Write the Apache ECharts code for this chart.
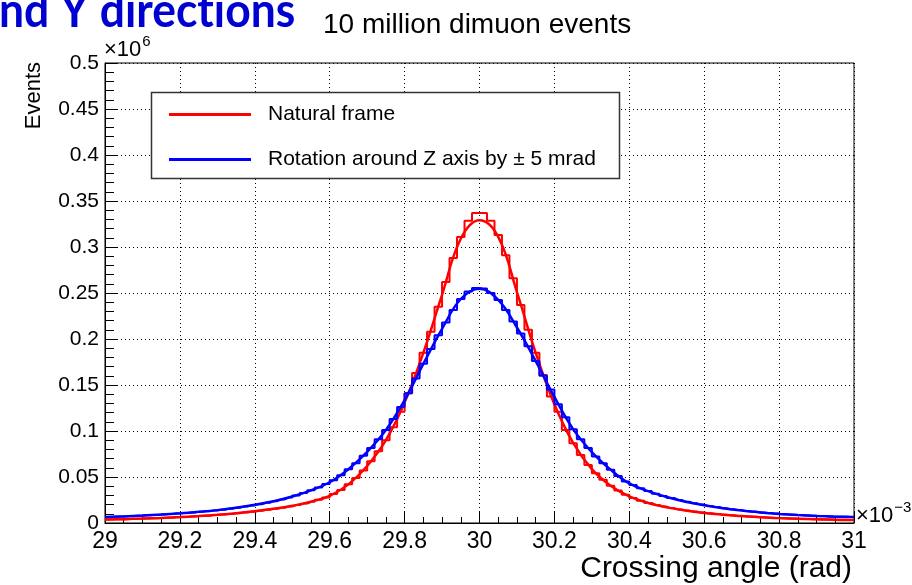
<!DOCTYPE html>
<html>
<head>
<meta charset="utf-8">
<script src="https://cdn.jsdelivr.net/npm/echarts@6/dist/echarts.min.js"></script>
<style>
  html, body { margin: 0; padding: 0; background: #ffffff; }
  #chart { width: 912px; height: 585px; }
</style>
</head>
<body>
<div id="chart"></div>
<script>
// Histogram binning: 100 bins of 0.02 (x 1e-3 rad) from 29.0 to 31.0
const binLow = 29.0;
const binWidth = 0.02;

// Events per bin (x 1e6), natural frame
const naturalCounts = [
  0.0038, 0.0040, 0.0042, 0.0044, 0.0046, 0.0049, 0.0052, 0.0055, 0.0058, 0.0062,
  0.0066, 0.0070, 0.0075, 0.0080, 0.0086, 0.0092, 0.0099, 0.0106, 0.0114, 0.0123,
  0.0133, 0.0143, 0.0154, 0.0166, 0.0180, 0.0195, 0.0212, 0.0231, 0.0253, 0.0278,
  0.0315, 0.0360, 0.0420, 0.0490, 0.0570, 0.0670, 0.0780, 0.0900, 0.1040, 0.1210,
  0.1410, 0.1630, 0.1850, 0.2080, 0.2350, 0.2620, 0.2880, 0.3110, 0.3286, 0.3370,
  0.3370, 0.3286, 0.3130, 0.2910, 0.2660, 0.2370, 0.2100, 0.1850, 0.1610, 0.1375,
  0.1210, 0.1010, 0.0868, 0.0740, 0.0630, 0.0540, 0.0470, 0.0405, 0.0354, 0.0307,
  0.0272, 0.0243, 0.0218, 0.0197, 0.0178, 0.0162, 0.0148, 0.0135, 0.0124, 0.0114,
  0.0105, 0.0097, 0.0090, 0.0083, 0.0077, 0.0072, 0.0067, 0.0062, 0.0058, 0.0054,
  0.0051, 0.0048, 0.0045, 0.0043, 0.0041, 0.0039, 0.0037, 0.0035, 0.0034, 0.0033
];

// Events per bin (x 1e6), rotation around Z by +-5 mrad
const rotatedCounts = [
  0.0066, 0.0069, 0.0072, 0.0075, 0.0079, 0.0083, 0.0087, 0.0092, 0.0097, 0.0102,
  0.0108, 0.0114, 0.0121, 0.0128, 0.0136, 0.0145, 0.0155, 0.0166, 0.0178, 0.0191,
  0.0205, 0.0220, 0.0237, 0.0256, 0.0277, 0.0300, 0.0326, 0.0355, 0.0387, 0.0423,
  0.0465, 0.0520, 0.0585, 0.0650, 0.0730, 0.0814, 0.0910, 0.1010, 0.1130, 0.1260,
  0.1410, 0.1570, 0.1730, 0.1890, 0.2040, 0.2180, 0.2316, 0.2435, 0.2515, 0.2555,
  0.2550, 0.2500, 0.2425, 0.2316, 0.2190, 0.2060, 0.1920, 0.1760, 0.1600, 0.1450,
  0.1290, 0.1150, 0.1020, 0.0910, 0.0814, 0.0723, 0.0650, 0.0580, 0.0510, 0.0450,
  0.0412, 0.0378, 0.0347, 0.0319, 0.0294, 0.0272, 0.0251, 0.0232, 0.0215, 0.0200,
  0.0186, 0.0173, 0.0161, 0.0150, 0.0140, 0.0131, 0.0123, 0.0115, 0.0108, 0.0102,
  0.0096, 0.0091, 0.0086, 0.0082, 0.0078, 0.0075, 0.0072, 0.0069, 0.0067, 0.0065
];

// Fitted curves sampled every 0.05 from 29.00 to 31.00
const fitStep = 0.05;
const naturalFit = [
  0.0037, 0.0042, 0.0048, 0.0055, 0.0064, 0.0075, 0.0089, 0.0106, 0.0128, 0.0154,
  0.0187, 0.0231, 0.0296, 0.0420, 0.0620, 0.0900, 0.1310, 0.1850, 0.2480, 0.3090,
  0.3290,
  0.3110, 0.2510, 0.1850, 0.1290, 0.0870, 0.0585, 0.0405, 0.0289, 0.0218, 0.0170,
  0.0135, 0.0109, 0.0090, 0.0075, 0.0062, 0.0053, 0.0045, 0.0040, 0.0035, 0.0032
];
const rotatedFit = [
  0.0064, 0.0072, 0.0081, 0.0092, 0.0105, 0.0121, 0.0140, 0.0166, 0.0198, 0.0237,
  0.0288, 0.0355, 0.0443, 0.0585, 0.0772, 0.1010, 0.1335, 0.1730, 0.2110, 0.2435,
  0.2545,
  0.2425, 0.2125, 0.1760, 0.1370, 0.1020, 0.0770, 0.0580, 0.0430, 0.0347, 0.0283,
  0.0232, 0.0193, 0.0161, 0.0135, 0.0115, 0.0099, 0.0086, 0.0076, 0.0069, 0.0064
];

const seriesNames = ['Natural frame', 'Rotation around Z axis by \u00b1 5 mrad'];
const xTickLabels = ['29', '29.2', '29.4', '29.6', '29.8', '30', '30.2', '30.4', '30.6', '30.8', '31'];
const yTickLabels = ['0', '0.05', '0.1', '0.15', '0.2', '0.25', '0.3', '0.35', '0.4', '0.45', '0.5'];

const xMin = 29, xMax = 31, xInterval = 0.2;
const yMin = 0, yMax = 0.5, yInterval = 0.05;

// Step outline: one point per bin centre plus the two outer edges
function histPoints(counts) {
  const pts = [[binLow, counts[0]]];
  counts.forEach((c, i) => pts.push([binLow + (i + 0.5) * binWidth, c]));
  pts.push([binLow + counts.length * binWidth, counts[counts.length - 1]]);
  return pts;
}
function fitPoints(vals) {
  return vals.map((v, i) => [binLow + i * fitStep, v]);
}

const FONT = '"Liberation Sans", Arial, Helvetica, sans-serif';
const RED = '#ff0000';
const BLUE = '#0000ff';

const chart = echarts.init(document.getElementById('chart'), null, { renderer: 'canvas' });

const axisCommon = {
  axisLine: { show: true, onZero: false, lineStyle: { color: '#000', width: 1 } },
  axisTick: { show: true, inside: true, length: 12, lineStyle: { color: '#000', width: 1 } },
  splitLine: { show: true, lineStyle: { color: '#000', width: 1, type: [1, 3] } }
};

const powerRich = {
  a: { fontFamily: FONT, fontSize: 22, verticalAlign: 'bottom' },
  b: { fontFamily: FONT, fontSize: 15, verticalAlign: 'top', padding: [0, 0, 12, 1] }
};

chart.setOption({
  animation: false,
  backgroundColor: '#ffffff',
  grid: {
    left: 105, right: 58, top: 63, bottom: 62,
    show: true, borderColor: '#000', borderWidth: 1, backgroundColor: 'transparent'
  },
  xAxis: Object.assign({
    type: 'value', min: xMin, max: xMax, interval: xInterval,
    minorTick: { show: true, splitNumber: 4, length: 6, lineStyle: { color: '#000', width: 1 } },
    axisLabel: {
      color: '#000', fontFamily: FONT, fontSize: 23, margin: 7,
      formatter: v => xTickLabels[Math.round((v - xMin) / xInterval)]
    }
  }, axisCommon),
  yAxis: Object.assign({
    type: 'value', min: yMin, max: yMax, interval: yInterval,
    minorTick: { show: true, splitNumber: 5, length: 9, lineStyle: { color: '#000', width: 1 } },
    axisLabel: {
      color: '#000', fontFamily: FONT, fontSize: 21, margin: 6,
      formatter: v => yTickLabels[Math.round((v - yMin) / yInterval)]
    }
  }, axisCommon),
  legend: {
    data: seriesNames,
    orient: 'vertical',
    left: 169, top: 104, padding: 0,
    icon: 'rect', itemWidth: 82, itemHeight: 3, itemGap: 24,
    selectedMode: false,
    z: 6,
    textStyle: { color: '#000', fontFamily: FONT, fontSize: 21, lineHeight: 20, padding: [0, 0, 0, 12] }
  },
  graphic: [
    { type: 'rect', z: 5, shape: { x: 151.5, y: 92.5, width: 468, height: 86 },
      style: { fill: '#ffffff', stroke: '#333', lineWidth: 1.5 } },
    // slide heading running off the top-left corner; ZWNJ keeps "t" and "i" as separate glyphs
    { type: 'text', z: 5, x: -1, y: 35.5, scaleX: 0.926,
      style: { text: 'nd Y direct\u200Cions', font: 'bold 48px Lato, "Open Sans", sans-serif', fill: '#0000d0',
               textAlign: 'left', textVerticalAlign: 'bottom', align: 'left', verticalAlign: 'bottom' } },
    { type: 'text', z: 5, x: 323, y: 25,
      style: { text: '10 million dimuon events', font: '28px ' + FONT, fill: '#000',
               textAlign: 'left', textVerticalAlign: 'middle', align: 'left', verticalAlign: 'middle' } },
    { type: 'text', z: 5, x: 34, y: 62, rotation: Math.PI / 2,
      style: { text: 'Events', font: '22px ' + FONT, fill: '#000',
               textAlign: 'right', textVerticalAlign: 'middle', align: 'right', verticalAlign: 'middle' } },
    { type: 'text', z: 5, x: 104, y: 61,
      style: { text: '{a|\u00d710}{b|6}', fill: '#000', rich: powerRich,
               textAlign: 'left', textVerticalAlign: 'bottom', align: 'left', verticalAlign: 'bottom' } },
    { type: 'text', z: 5, x: 856, y: 527,
      style: { text: '{a|\u00d710}{b|\u22123}', fill: '#000', rich: powerRich,
               textAlign: 'left', textVerticalAlign: 'bottom', align: 'left', verticalAlign: 'bottom' } },
    { type: 'text', z: 5, x: 852, y: 584,
      style: { text: 'Crossing angle (rad)', font: '30px ' + FONT, fill: '#000',
               textAlign: 'right', textVerticalAlign: 'bottom', align: 'right', verticalAlign: 'bottom' } }
  ],
  series: [
    { name: seriesNames[0], type: 'line', step: 'middle', data: histPoints(naturalCounts),
      showSymbol: false, symbol: 'none', lineStyle: { color: RED, width: 2 }, itemStyle: { color: RED }, z: 2 },
    { name: seriesNames[0], type: 'line', smooth: 0.4, data: fitPoints(naturalFit),
      showSymbol: false, symbol: 'none', lineStyle: { color: RED, width: 2.5 }, itemStyle: { color: RED }, z: 2 },
    { name: seriesNames[1], type: 'line', step: 'middle', data: histPoints(rotatedCounts),
      showSymbol: false, symbol: 'none', lineStyle: { color: BLUE, width: 2 }, itemStyle: { color: BLUE }, z: 3 },
    { name: seriesNames[1], type: 'line', smooth: 0.4, data: fitPoints(rotatedFit),
      showSymbol: false, symbol: 'none', lineStyle: { color: BLUE, width: 2.5 }, itemStyle: { color: BLUE }, z: 3 }
  ]
});
</script>
</body>
</html>
